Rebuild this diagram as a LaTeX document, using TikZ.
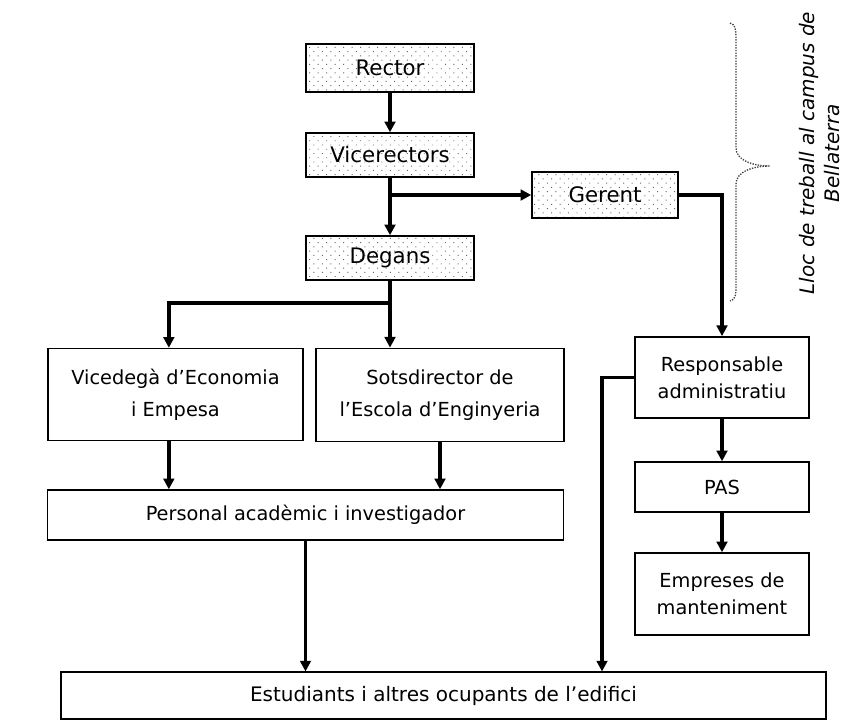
\documentclass[tikz,border=0pt]{standalone}
\usepackage{fontspec}
\setmainfont{DejaVu Sans}
\usetikzlibrary{arrows.meta,positioning,patterns.meta}

\begin{document}
\begin{tikzpicture}[
    x=0.75pt, y=-0.75pt,
    box/.style = {draw, line width=1.1pt, align=center, inner sep=2pt},
    dotbox/.style = {box, pattern={Dots[distance=4.5pt, radius=0.5pt, angle=45]}, pattern color=black!60,
      minimum width=126pt, minimum height=33pt, font=\fontsize{16}{19}\selectfont},
    leftbox/.style = {box, font=\fontsize{14.5}{24}\selectfont},
    rightbox/.style = {box, minimum width=130.5pt, font=\fontsize{14.5}{20}\selectfont},
    conn/.style = {line width=2.8pt},
    >={Triangle[length=8pt, width=8pt]}
  ]
  \useasboundingbox (0,0) rectangle (855,722);
  % top of the hierarchy
  \node[dotbox, minimum height=36pt] (rector) at (390,68) {Rector};
  \node[dotbox] (vicer) at (390,155) {Vicerectors};
  \node[dotbox] (degans) at (390,258) {Degans};
  \node[dotbox, minimum width=109.5pt, minimum height=34.5pt] (gerent) at (605,195) {Gerent};
  % academic side
  \node[leftbox, minimum width=191pt, minimum height=69pt] (vicedega) at (175.5,394.5) {Vicedegà d’Economia\\i Empesa};
  \node[leftbox, minimum width=186pt, minimum height=70pt] (sotsdir) at (440,395) {Sotsdirector de\\l’Escola d’Enginyeria};
  \node[box, minimum width=387pt, minimum height=37.5pt, font=\fontsize{14.5}{17}\selectfont] (personal) at (305.5,515) {Personal acadèmic i investigador};
  % administrative side
  \node[rightbox, minimum height=61pt] (resp) at (722,377.5) {Responsable\\administratiu};
  \node[rightbox, minimum height=37.5pt] (pas) at (722,487) {PAS};
  \node[rightbox, minimum height=61.5pt] (empr) at (722,594) {Empreses de\\manteniment};
  \node[box, minimum width=574pt, minimum height=35pt, font=\fontsize{15}{18}\selectfont] (estud) at (443.5,695.5) {Estudiants i altres ocupants de l’edifici};

  % brace and its label
  \draw[line width=1pt, black!75, dash pattern=on 1pt off 1pt] (730,23) .. controls (736,24) and (736,32) .. (736,42)
    -- (736,148) .. controls (736,160) and (752,166) .. (770,166)
    .. controls (752,166) and (736,172) .. (736,184)
    -- (736,282) .. controls (736,294) and (736,300) .. (730,301);
  \node[rotate=90, align=center, font=\itshape\fontsize{15}{18.75}\selectfont] (campus) at (820,153) {Lloc de treball al campus de\\Bellaterra};

  % connectors
  \coordinate (fork) at (390,303);
  \coordinate (drop) at (602,377.5);
  \draw[conn,->] (rector) -- (vicer);
  \draw[conn,->] (vicer) -- (degans);
  \draw[conn,->] (vicer.south |- gerent.west) -- (gerent);
  \draw[conn,->] (gerent) -| (resp);
  \draw[conn,->, line width=3.4pt] (degans) -- (fork) -| ([xshift=-5pt]vicedega.north);
  \draw[conn,->] (fork) -- (fork |- sotsdir.north);
  \draw[conn,->] ([xshift=-5pt]vicedega.south) -- ([xshift=-5pt]vicedega.south |- personal.north);
  \draw[conn,->] (sotsdir.south) -- (sotsdir.south |- personal.north);
  \draw[conn,->] (personal) -- (personal.south |- estud.north);
  \draw[conn,->] (resp.west) -- (drop) -- (drop |- estud.north);
  \draw[conn,->] (resp) -- (pas);
  \draw[conn,->] (pas) -- (empr);
\end{tikzpicture}
\end{document}
